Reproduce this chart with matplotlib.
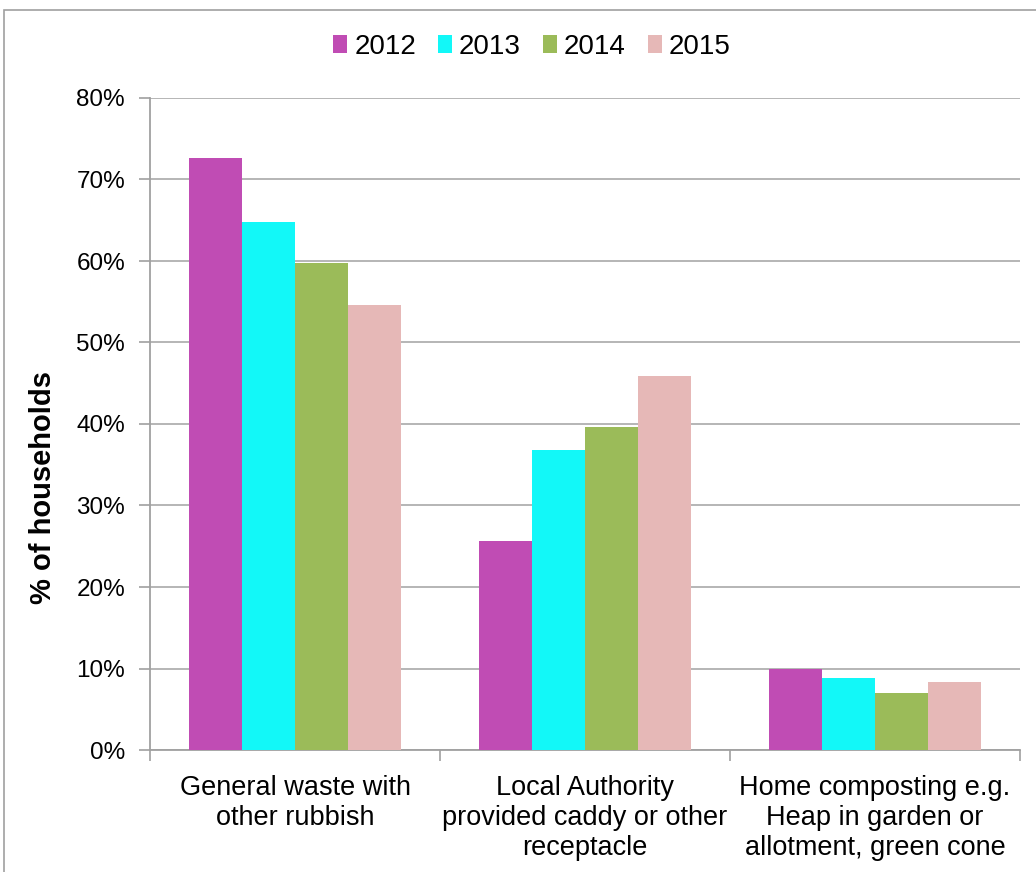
import numpy as np
import matplotlib
matplotlib.use('Agg')
import matplotlib.pyplot as plt
from matplotlib.patches import Rectangle
from matplotlib.ticker import FuncFormatter

plt.rcParams['font.family'] = ['Liberation Sans', 'DejaVu Sans']

categories = ["General waste with\nother rubbish",
              "Local Authority\nprovided caddy or other\nreceptacle",
              "Home composting e.g.\nHeap in garden or\nallotment, green cone"]
years = ["2012", "2013", "2014", "2015"]
v2012 = [72.6, 25.6, 10.0]
v2013 = [64.8, 36.8, 8.8]
v2014 = [59.8, 39.6, 7.0]
v2015 = [54.6, 45.9, 8.4]
colors = ["#c04cb4", "#12f8f8", "#9bbb59", "#e6b8b7"]

fig = plt.figure(figsize=(10.36, 8.72), dpi=100)
ax = fig.add_axes([150 / 1036, 1 - 750 / 872, 870 / 1036, 652 / 872])

# chart frame
fig.patches.append(Rectangle((4 / 1036, -0.1), 1.1, 1.1 - 10 / 872,
                             transform=fig.transFigure, fill=False,
                             edgecolor="#a0a0a0", linewidth=1.2))

x = np.arange(len(categories))
w = 0.182
for i, (vals, yr) in enumerate(zip([v2012, v2013, v2014, v2015], years)):
    ax.bar(x + (i - 1.5) * w, vals, w, color=colors[i], label=yr, zorder=3)

ax.set_xlim(-0.5, 2.5)
ax.set_ylim(0, 80)
ax.set_yticks(range(0, 81, 10))
ax.yaxis.set_major_formatter(FuncFormatter(lambda v, p: f"{int(v)}%"))
ax.yaxis.grid(True, color="#b0b0b0", linewidth=1.3, zorder=0)
ax.set_xticks(x)
ax.set_xticklabels(categories, fontsize=19.5, linespacing=1.2)
ax.set_xticks([-0.5, 0.5, 1.5, 2.5], minor=True)
ax.tick_params(axis="x", which="major", length=0, pad=18)
ax.tick_params(axis="x", which="minor", length=8, color="#a0a0a0", width=1.2)
ax.tick_params(axis="y", length=8, color="#a0a0a0", width=1.2, labelsize=17.5, pad=10)

for s in ["top", "right"]:
    ax.spines[s].set_visible(False)
for s in ["left", "bottom"]:
    ax.spines[s].set_color("#a0a0a0")
    ax.spines[s].set_linewidth(1.3)

ax.set_ylabel("% of households", fontsize=21, fontweight="bold")
ax.yaxis.set_label_coords(-93 / 870, 0.402)

fig.legend(loc="center", bbox_to_anchor=(532 / 1036, 1 - 47 / 872), ncol=4,
           frameon=False, fontsize=20, handlelength=0.5, handleheight=0.6,
           handletextpad=0.25, columnspacing=0.8)

fig.savefig("out.png", dpi=100)
